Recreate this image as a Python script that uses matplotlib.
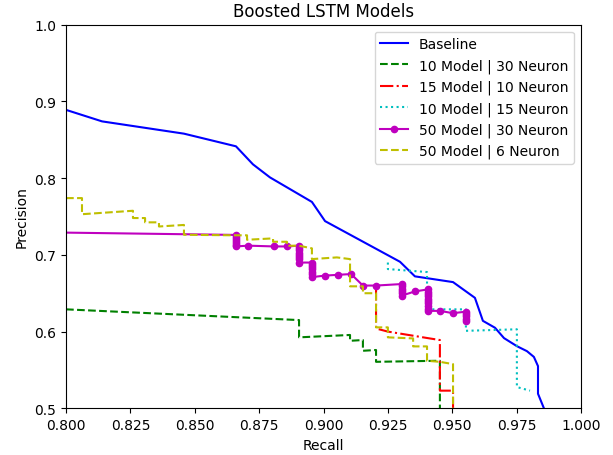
import matplotlib
matplotlib.use("Agg")
import matplotlib.pyplot as plt

# Baseline
base_recall = [0.800, 0.814, 0.8458, 0.866, 0.8726, 0.8792, 0.8955, 0.9006, 0.9297, 0.9355,
               0.9503, 0.9588, 0.9619, 0.9666, 0.9701, 0.9751, 0.9790, 0.9817, 0.9833, 0.9833, 0.9856]
base_prec = [0.889, 0.874, 0.858, 0.8415, 0.818, 0.801, 0.769, 0.744, 0.691, 0.672,
             0.6645, 0.644, 0.614, 0.605, 0.5915, 0.581, 0.5745, 0.567, 0.555, 0.519, 0.500]

# 10 Model | 30 Neuron
g_recall = [0.800, 0.8905, 0.8905, 0.9103, 0.9103, 0.9153, 0.9153, 0.9204, 0.9204, 0.9452, 0.9452]
g_prec = [0.629, 0.615, 0.5925, 0.5956, 0.588, 0.589, 0.575, 0.576, 0.5606, 0.562, 0.500]

# 15 Model | 10 Neuron
r_recall = [0.9204, 0.9204, 0.9250, 0.9414, 0.9452, 0.9452, 0.9503, 0.9503]
r_prec = [0.658, 0.604, 0.600, 0.591, 0.589, 0.523, 0.523, 0.500]

# 10 Model | 15 Neuron
c_recall = [0.925, 0.925, 0.9402, 0.9402, 0.9553, 0.9553, 0.9751, 0.9751, 0.9802]
c_prec = [0.690, 0.6815, 0.6776, 0.629, 0.629, 0.601, 0.603, 0.5277, 0.523]

# 50 Model | 30 Neuron
m_recall = [0.800,
            0.866, 0.866, 0.866, 0.866, 0.866, 0.866, 0.866,
            0.8707, 0.8808, 0.8858,
            0.8905, 0.8905, 0.8905, 0.8905, 0.8905, 0.8905, 0.8905, 0.8905,
            0.8955, 0.8955, 0.8955, 0.8955, 0.8955, 0.8955, 0.8955,
            0.9006, 0.9056, 0.9107, 0.9153, 0.9204,
            0.9305, 0.9305, 0.9305, 0.9305, 0.9305, 0.9305,
            0.9355,
            0.9406, 0.9406, 0.9406, 0.9406, 0.9406, 0.9406, 0.9406, 0.9406, 0.9406, 0.9406,
            0.9452, 0.9503,
            0.9553, 0.9553, 0.9553, 0.9553, 0.9553]
m_prec = [0.729,
          0.726, 0.7235, 0.721, 0.7185, 0.716, 0.7135, 0.711,
          0.712, 0.711, 0.711,
          0.712, 0.709, 0.706, 0.703, 0.700, 0.697, 0.694, 0.690,
          0.690, 0.687, 0.684, 0.681, 0.678, 0.675, 0.671,
          0.673, 0.674, 0.675, 0.660, 0.660,
          0.662, 0.659, 0.656, 0.653, 0.650, 0.647,
          0.6524,
          0.655, 0.652, 0.649, 0.646, 0.643, 0.640, 0.637, 0.634, 0.630, 0.627,
          0.627, 0.624,
          0.626, 0.623, 0.620, 0.617, 0.614]

# 50 Model | 6 Neuron
y_recall = [0.800, 0.8062, 0.8062, 0.826, 0.826, 0.8307, 0.8307, 0.8361, 0.8361, 0.8458, 0.8458,
            0.8656, 0.8703, 0.8703, 0.8804, 0.8804, 0.8858, 0.8858, 0.8905, 0.8955, 0.8955,
            0.9052, 0.9103, 0.9103, 0.9153, 0.9153, 0.9204, 0.9204, 0.9250, 0.9250, 0.9348, 0.9348,
            0.9402, 0.9402, 0.9452, 0.9503, 0.9503]
y_prec = [0.774, 0.774, 0.753, 0.7575, 0.748, 0.748, 0.7424, 0.7424, 0.737, 0.739, 0.7262,
          0.7255, 0.7255, 0.7197, 0.7215, 0.7171, 0.7171, 0.7119, 0.7119, 0.7085, 0.6945,
          0.6967, 0.6945, 0.659, 0.659, 0.650, 0.650, 0.6055, 0.6055, 0.5925, 0.5911, 0.5807,
          0.5807, 0.5619, 0.5606, 0.5576, 0.500]

fig = plt.figure(figsize=(6.13, 4.56), dpi=100)
ax = fig.add_axes([0.1077, 0.1024, 0.8401, 0.8412])

ax.plot(base_recall, base_prec, 'b-', lw=1.5, label='Baseline')
ax.plot(g_recall, g_prec, 'g--', lw=1.5, label='10 Model | 30 Neuron')
ax.plot(r_recall, r_prec, 'r-.', lw=1.5, label='15 Model | 10 Neuron')
ax.plot(c_recall, c_prec, 'c:', lw=1.5, label='10 Model | 15 Neuron')
ax.plot(m_recall, m_prec, 'm-o', lw=1.5, ms=4.5, markevery=list(range(1, len(m_recall))),
        label='50 Model | 30 Neuron')
ax.plot(y_recall, y_prec, 'y--', lw=1.5, label='50 Model | 6 Neuron')

ax.set_xlim(0.8, 1.0)
ax.set_ylim(0.5, 1.0)
ax.set_xticks([0.800, 0.825, 0.850, 0.875, 0.900, 0.925, 0.950, 0.975, 1.000])
ax.set_xticklabels(['0.800', '0.825', '0.850', '0.875', '0.900', '0.925', '0.950', '0.975', '1.000'])
ax.set_yticks([0.5, 0.6, 0.7, 0.8, 0.9, 1.0])
ax.set_xlabel('Recall')
ax.set_ylabel('Precision')
ax.set_title('Boosted LSTM Models')
ax.legend(loc='upper right')

fig.savefig('out.png', dpi=100)
